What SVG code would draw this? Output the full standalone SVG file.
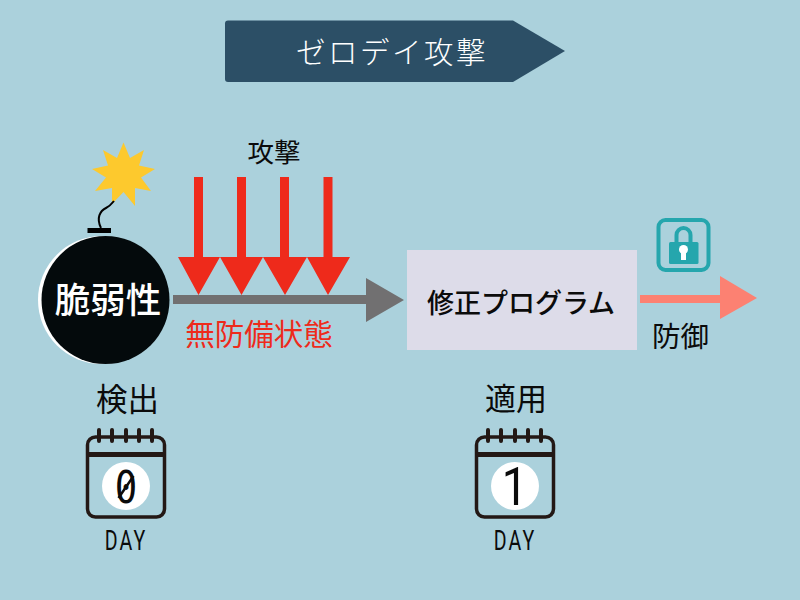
<svg xmlns="http://www.w3.org/2000/svg" width="800" height="600" viewBox="0 0 800 600">
<style>
text{font-family:"Noto Sans CJK JP","Noto Sans CJK SC",sans-serif;text-anchor:middle;fill:#0b0b0b}
.cal{fill:none;stroke:#231815;stroke-width:3.500}
.ring{stroke:#231815;stroke-width:4;stroke-linecap:round}
.red{fill:#ee2a1b}
.day{font-family:Roboto,sans-serif;font-size:28px;letter-spacing:3px}
.num{font-family:Roboto,sans-serif}
.zero{font-family:"DejaVu Sans Mono",monospace}
</style>
<defs>
<g id="calendar">
<rect class="cal" x="87.500" y="437" width="77" height="80" rx="8"/>
<path d="M87 454.500H165" stroke="#231815" stroke-width="5"/>
<path class="ring" d="M99 430V441M112 430V441M126 430V441M139 430V441M152 430V441"/>
<circle cx="126" cy="486" r="24" fill="#fff"/>
</g>
</defs>
<rect width="800" height="600" fill="#abd1dc"/>
<g id="banner">
<path d="M228 20.500H513L565 51L513 82H228Q225 82 225 79V23.500Q225 20.500 228 20.500Z" fill="#2c4f66"/>
<text x="392" y="63" font-size="29.500" letter-spacing="2.500" style="fill:#fff;font-weight:300">ゼロデイ攻撃</text>
</g>
<g id="connectors">
<g id="attack-arrows" class="red">
<path d="M194 177H203V257H220L198.500 295L178 257H194Z"/>
<path d="M237 177H246V257H263L241.500 295L220 257H237Z"/>
<path d="M280 177H289V257H307L285 295L263 257H280Z"/>
<path d="M323.500 177H332.500V257H350L328 295L307 257H323.500Z"/>
</g>
<path id="exposure-arrow" d="M173 295H366V278L404 300L366 322V304H173Z" fill="#717071"/>
<path id="defense-arrow" d="M640 295H720V276L757 298L720 319V303H640Z" fill="#fc8172"/>
</g>
<g id="attack-label"><text x="274" y="162" font-size="26.500">攻撃</text></g>
<g id="vulnerable-period"><text x="259" y="345" font-size="29.500" style="fill:#ee2a1b">無防備状態</text></g>
<g id="bomb">
<circle cx="102" cy="300" r="64" fill="#fff"/>
<circle cx="105.500" cy="300" r="64" fill="#040a0c"/>
<rect x="87.500" y="228" width="23.500" height="5" fill="#000"/>
<polygon points="123.500,142.500 130,158 144,150 139,165.500 155,169 141,177.500 151,191 135,188 135,206 123.500,192 112,204 112,188 95,191 106,177.500 92,169 108,165.500 103,150 117,158" fill="#fdc92d"/>
<path d="M101 228C96 218 100 211 106 208Q110 206 114 201" fill="none" stroke="#000" stroke-width="2"/>
<text x="108" y="313" font-size="35.500" style="fill:#fff;font-weight:500">脆弱性</text>
</g>
<g id="patch">
<rect x="407" y="250" width="230" height="100" fill="#dddce9"/>
<text x="521" y="313" font-size="27" style="font-weight:500">修正プログラム</text>
</g>
<g id="lock">
<rect x="658.500" y="220" width="50" height="50" rx="7" fill="none" stroke="#25a6ad" stroke-width="4"/>
<path d="M676.500 243V235A7 7 0 0 1 690.500 235V243" fill="none" stroke="#25a6ad" stroke-width="4"/>
<rect x="669" y="242" width="29.500" height="22" rx="1.500" fill="#25a6ad"/>
<circle cx="683.500" cy="249.500" r="4.500" fill="#fff"/>
<rect x="681" y="251" width="5" height="9" fill="#fff"/>
</g>
<g id="defense-label"><text x="680.500" y="347" font-size="28.500">防御</text></g>
<g id="detect">
<text x="127.500" y="411" font-size="31.500">検出</text>
<use href="#calendar"/>
<text class="zero" x="126" y="503" font-size="44" transform="translate(18.900 0) scale(0.85 1)">0</text>
<path d="M118.500 498L133.500 476" stroke="#0b0b0b" stroke-width="2.500"/>
<text class="day" x="126" y="550" transform="translate(37.800 0) scale(0.7 1)">DAY</text>
</g>
<g id="apply">
<text x="516" y="410" font-size="31">適用</text>
<use href="#calendar" x="389"/>
<text class="num" x="515" y="505" font-size="54" transform="translate(77 0) scale(0.85 1)">1</text>
<text class="day" x="515" y="550" transform="translate(154.500 0) scale(0.7 1)">DAY</text>
</g>
</svg>
